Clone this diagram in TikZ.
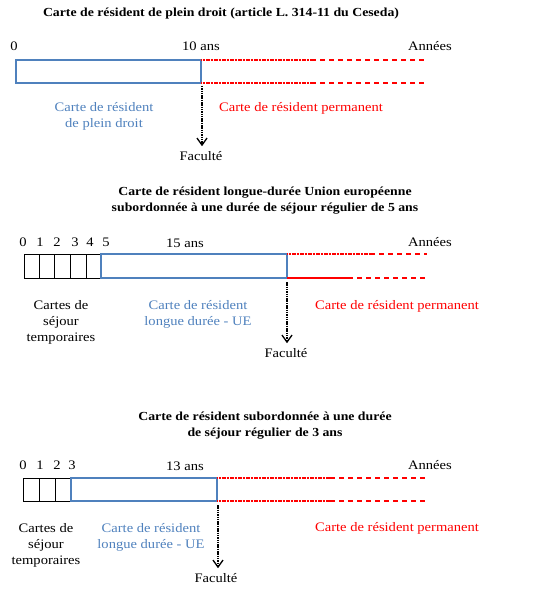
\documentclass[tikz,border=0pt]{standalone}
\usepackage{fontspec}
\setmainfont{Liberation Serif}[FakeStretch=1.12]
\usetikzlibrary{arrows.meta}
\definecolor{bl}{HTML}{4F81BD}
\definecolor{rd}{HTML}{FF0000}
\begin{document}
\begin{tikzpicture}[x=1pt,y=-1pt,
  txt/.style={font=\fontsize{13}{16}\selectfont, inner sep=0pt, align=center},
  ttl/.style={txt, font=\fontsize{12.3}{16}\selectfont\bfseries},
  bluetxt/.style={txt, text=bl},
  redtxt/.style={txt, text=rd},
  bluebox/.style={draw=bl, line width=1.2pt},
  blackbox/.style={draw=black, line width=0.9pt},
  reddense/.style={draw=rd, line width=1.3pt, dash pattern=on 1.2pt off 0.4pt},
  reddash/.style={draw=rd, line width=1.3pt, dash pattern=on 5pt off 4pt},
  redsolid/.style={draw=rd, line width=1.5pt},
  faculty/.style={draw=black, line width=1.1pt, dash pattern=on 1.5pt off 0.8pt, -{Straight Barb[length=7pt,width=10pt,line width=1.3pt]}}
]
\useasboundingbox (0,0) rectangle (535,593);

% ---------- Panel 1 ----------
\node[ttl] (t1) at (221,14) {Carte de résident de plein droit (article L. 314-11 du Ceseda)};
\node[txt] (n10) at (14,46) {0};
\node[txt] (n11) at (201,46) {10 ans};
\node[txt] (a1) at (430,46) {Années};
\coordinate (b1tl) at (16,60);
\coordinate (b1br) at (201,83);
\draw[bluebox] (b1tl) rectangle (b1br);
\coordinate (r1a) at (201,60);
\coordinate (r1b) at (311,60);
\coordinate (r1c) at (427,60);
\coordinate (r1d) at (201,83);
\coordinate (r1e) at (311,83);
\coordinate (r1f) at (427,83);
\draw[reddense] (r1a) -- (r1b);
\draw[reddash] (r1b) -- (r1c);
\draw[reddense] (r1d) -- (r1e);
\draw[reddash] (r1e) -- (r1f);
\node[bluetxt] (l1a) at (104,116) {Carte de résident\\de plein droit};
\node[redtxt] (l1b) at (301,108) {Carte de résident permanent};
\coordinate (f1s) at (202,86);
\node[txt] (f1) at (201,156) {Faculté};
\draw[faculty] (f1s) -- ([yshift=5pt]f1.north -| f1s);

% ---------- Panel 2 ----------
\node[ttl] (t2) at (265,201) {Carte de résident longue-durée Union européenne\\subordonnée à une durée de séjour régulier de 5 ans};
\foreach \i/\x in {0/23,1/40,2/57,3/75,4/90,5/106} {
  \node[txt] (n2\i) at (\x,242) {\i};
}
\node[txt] (n2y) at (185,243) {15 ans};
\node[txt] (a2) at (430,242) {Années};
\foreach \a/\b in {24/39,39/54,54/70,70/86,86/101} {
  \draw[blackbox] (\a,254) rectangle (\b,278);
}
\draw[bluebox] (101,254) rectangle (287,278);
\coordinate (r2a) at (287,254);
\coordinate (r2b) at (370,254);
\coordinate (r2c) at (427,254);
\coordinate (r2d) at (287,278);
\coordinate (r2e) at (348,278);
\coordinate (r2f) at (427,278);
\draw[reddense] (r2a) -- (r2b);
\draw[reddash] (r2b) -- (r2c);
\draw[redsolid] (r2d) -- (r2e);
\draw[reddash] (r2e) -- (r2f);
\node[txt] (l2a) at (61,322) {Cartes de\\séjour\\temporaires};
\node[bluetxt] (l2b) at (198,314) {Carte de résident\\longue durée - UE};
\node[redtxt] (l2c) at (397,306) {Carte de résident permanent};
\coordinate (f2s) at (287,282);
\node[txt] (f2) at (286,353) {Faculté};
\draw[faculty] (f2s) -- ([yshift=5pt]f2.north -| f2s);

% ---------- Panel 3 ----------
\node[ttl] (t3) at (265,426) {Carte de résident subordonnée à une durée\\de séjour régulier de 3 ans};
\foreach \i/\x in {0/23,1/40,2/57,3/72} {
  \node[txt] (n3\i) at (\x,465) {\i};
}
\node[txt] (n3y) at (185,466) {13 ans};
\node[txt] (a3) at (430,465) {Années};
\foreach \a/\b in {23/39,39/55,55/71} {
  \draw[blackbox] (\a,478) rectangle (\b,501);
}
\draw[bluebox] (71,478) rectangle (217,501);
\coordinate (r3a) at (217,478);
\coordinate (r3b) at (330,478);
\coordinate (r3c) at (427,478);
\coordinate (r3d) at (217,501);
\coordinate (r3e) at (330,501);
\coordinate (r3f) at (427,501);
\draw[reddense] (r3a) -- (r3b);
\draw[reddash] (r3b) -- (r3c);
\draw[reddense] (r3d) -- (r3e);
\draw[reddash] (r3e) -- (r3f);
\node[txt] (l3a) at (46,545) {Cartes de\\séjour\\temporaires};
\node[bluetxt] (l3b) at (151,537) {Carte de résident\\longue durée - UE};
\node[redtxt] (l3c) at (397,528) {Carte de résident permanent};
\coordinate (f3s) at (218,505);
\node[txt] (f3) at (216,578) {Faculté};
\draw[faculty] (f3s) -- ([yshift=5pt]f3.north -| f3s);
\end{tikzpicture}
\end{document}
